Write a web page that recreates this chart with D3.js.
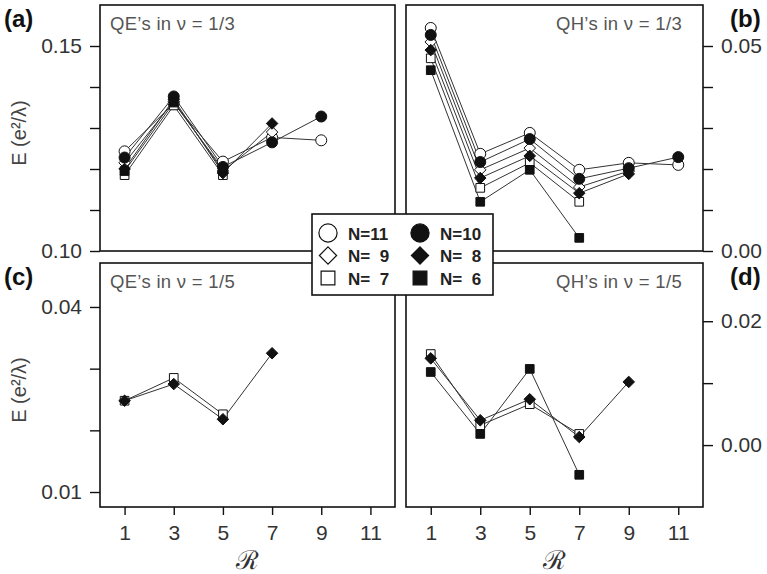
<!DOCTYPE html>
<html>
<head>
<meta charset="utf-8">
<script src="https://cdn.jsdelivr.net/npm/d3@7"></script>
<style>
  body { margin: 0; background: #fff; }
  svg { display: block; }
  text { font-family: "Liberation Sans", Arial, sans-serif; }
</style>
</head>
<body>
<svg id="chart" width="767" height="574"></svg>
<script>
// R values on the x axis, and the particle numbers of the six series
const rValues = [1, 3, 5, 7, 9, 11];
const seriesN = [11, 10, 9, 8, 7, 6];
const seriesShape = ["circle", "circle", "diamond", "diamond", "square", "square"];
const seriesFilled = [false, true, false, true, false, true];

// E values per series (same order as seriesN), one entry per R; missing R left off
const qe13 = [
  [0.1243, 0.1360, 0.1218, 0.1277, 0.1270],
  [0.1228, 0.1377, 0.1205, 0.1265, 0.1328],
  [0.1215, 0.1365, 0.1195, 0.1290],
  [0.1200, 0.1370, 0.1190, 0.1311],
  [0.1185, 0.1355, 0.1185],
  [0.1195, 0.1362, 0.1200]
];
const qh13 = [
  [0.0544, 0.0237, 0.0288, 0.0198, 0.0215, 0.0210],
  [0.0527, 0.0217, 0.0273, 0.0176, 0.0202, 0.0229],
  [0.0510, 0.0198, 0.0251, 0.0156, 0.0195],
  [0.0490, 0.0178, 0.0232, 0.0141, 0.0188],
  [0.0470, 0.0154, 0.0215, 0.0120],
  [0.0441, 0.0120, 0.0198, 0.0032]
];
const qe15 = [
  [], [], [],
  [0.0248, 0.0275, 0.0218, 0.0325],
  [0.0248, 0.0285, 0.0226],
  []
];
const qh15 = [
  [], [], [],
  [0.0140, 0.0040, 0.0074, 0.0013, 0.0102],
  [0.0147, 0.0032, 0.0066, 0.0018],
  [0.0118, 0.0018, 0.0123, -0.0048]
];

// y ticks and which of them carry a label
const ticksA = [0.10, 0.11, 0.12, 0.13, 0.14, 0.15], labelsA = [0.10, 0.15];
const ticksB = [0.00, 0.01, 0.02, 0.03, 0.04, 0.05], labelsB = [0.00, 0.05];
const ticksC = [0.01, 0.02, 0.03, 0.04], labelsC = [0.01, 0.04];
const ticksD = [0.00, 0.01, 0.02], labelsD = [0.00, 0.02];

const svg = d3.select("#chart");
const fmt = d3.format(".2f");

const xLeft = d3.scaleLinear().domain([0, 12]).range([100, 395]);
const xRight = d3.scaleLinear().domain([0, 12]).range([406, 703]);

const panels = [
  {id: "a", x: xLeft, y: d3.scaleLinear().domain([0.10, 0.160]).range([251, 5]),
   ticks: ticksA, labels: labelsA, side: "left", data: qe13,
   title: "QE\u2019s in \u03bd = 1/3", letter: "(a)"},
  {id: "b", x: xRight, y: d3.scaleLinear().domain([0, 0.060]).range([251, 5]),
   ticks: ticksB, labels: labelsB, side: "right", data: qh13,
   title: "QH\u2019s in \u03bd = 1/3", letter: "(b)"},
  {id: "c", x: xLeft, y: d3.scaleLinear().domain([0.00757, 0.04713]).range([507, 263]),
   ticks: ticksC, labels: labelsC, side: "left", data: qe15,
   title: "QE\u2019s in \u03bd = 1/5", letter: "(c)"},
  {id: "d", x: xRight, y: d3.scaleLinear().domain([-0.0100, 0.0294]).range([507, 263]),
   ticks: ticksD, labels: labelsD, side: "right", data: qh15,
   title: "QH\u2019s in \u03bd = 1/5", letter: "(d)"}
];

function symbolPath(shape, size) {
  const s = shape === "circle" ? d3.symbolCircle : shape === "diamond" ? d3.symbolDiamond2 : d3.symbolSquare;
  return d3.symbol().type(s).size(size)();
}

panels.forEach(function(p) {
  const g = svg.append("g").attr("id", "panel-" + p.id);
  const [x0, x1] = p.x.range();
  const [y0, y1] = p.y.range();

  g.append("rect")
    .attr("x", x0).attr("y", y1)
    .attr("width", x1 - x0).attr("height", y0 - y1)
    .attr("fill", "none").attr("stroke", "#111").attr("stroke-width", 1.6);

  const axis = (p.side === "left" ? d3.axisLeft(p.y) : d3.axisRight(p.y))
    .tickValues(p.ticks).tickSize(10).tickPadding(8)
    .tickFormat(function(d) { return p.labels.some(l => Math.abs(l - d) < 1e-9) ? fmt(d) : ""; });

  const ax = g.append("g")
    .attr("transform", "translate(" + (p.side === "left" ? x0 : x1) + ",0)")
    .call(axis);
  ax.select(".domain").remove();
  ax.selectAll("line").attr("stroke", "#111").attr("stroke-width", 1.4);
  ax.selectAll("text").attr("font-size", 21).attr("fill", "#333")
    .attr("font-family", "Liberation Sans, Arial, sans-serif");

  if (p.id === "c" || p.id === "d") {
    const xa = g.append("g")
      .attr("transform", "translate(0," + y0 + ")")
      .call(d3.axisBottom(p.x).tickValues(rValues).tickSize(8).tickPadding(10));
    xa.select(".domain").remove();
    xa.selectAll("line").attr("stroke", "#111").attr("stroke-width", 1.4);
    xa.selectAll("text").attr("font-size", 21).attr("fill", "#333")
      .attr("font-family", "Liberation Sans, Arial, sans-serif");
    g.append("text")
      .attr("x", (x0 + x1) / 2).attr("y", 569)
      .attr("text-anchor", "middle")
      .attr("font-family", "DejaVu Sans, DejaVu Serif, serif")
      .attr("font-size", 26).attr("fill", "#333")
      .text("\u211b");
  }

  if (p.side === "left") {
    g.append("text")
      .attr("transform", "translate(26," + ((y0 + y1) / 2 + 5) + ") rotate(-90)")
      .attr("text-anchor", "middle")
      .attr("font-size", 20).attr("fill", "#444")
      .text("E (e\u00b2/\u03bb)");
  }

  g.append("text")
    .attr("x", p.side === "left" ? x0 + 10 : x1 - 21)
    .attr("y", y1 + 25)
    .attr("text-anchor", p.side === "left" ? "start" : "end")
    .attr("font-family", "Noto Sans, Open Sans, sans-serif")
    .attr("font-size", 18.5).attr("fill", "#555")
    .attr("letter-spacing", 0.3)
    .text(p.title);

  g.append("text")
    .attr("x", p.side === "left" ? 4 : 730)
    .attr("y", y1 + 22)
    .attr("font-size", 24).attr("font-weight", "bold").attr("fill", "#111")
    .text(p.letter);

  const line = d3.line()
    .x(function(d, i) { return p.x(rValues[i]); })
    .y(function(d) { return p.y(d); });

  p.data.forEach(function(vals) {
    if (vals.length < 2) return;
    g.append("path").datum(vals)
      .attr("d", line)
      .attr("fill", "none").attr("stroke", "#333").attr("stroke-width", 1);
  });

  const order = [0, 2, 4, 1, 3, 5];
  order.forEach(function(si) {
    const shape = seriesShape[si];
    const size = shape === "circle" ? 95 : shape === "diamond" ? 85 : 75;
    g.selectAll(null).data(p.data[si]).enter().append("path")
      .attr("transform", function(d, i) { return "translate(" + p.x(rValues[i]) + "," + p.y(d) + ")"; })
      .attr("d", symbolPath(shape, size))
      .attr("fill", seriesFilled[si] ? "#111" : "#fff")
      .attr("stroke", "#111").attr("stroke-width", 1);
  });
});

// legend box over the junction of the four panels
const legend = svg.append("g").attr("id", "legend");
legend.append("rect")
  .attr("x", 312).attr("y", 214).attr("width", 181).attr("height", 81)
  .attr("fill", "#fff").attr("stroke", "#111").attr("stroke-width", 1.6);

const legendCol = d3.scaleOrdinal().domain([0, 1]).range([328, 420]);
const legendRow = d3.scalePoint().domain([0, 1, 2]).range([233, 278]);

seriesN.forEach(function(n, si) {
  const col = seriesFilled[si] ? 1 : 0;
  const row = Math.floor(si / 2);
  const shape = seriesShape[si];
  const size = shape === "circle" ? 260 : shape === "diamond" ? 190 : 190;
  const lx = legendCol(col), ly = legendRow(row);
  legend.append("path")
    .attr("transform", "translate(" + lx + "," + ly + ")")
    .attr("d", symbolPath(shape, size))
    .attr("fill", seriesFilled[si] ? "#111" : "#fff")
    .attr("stroke", "#111").attr("stroke-width", 1.2);
  legend.append("text")
    .attr("x", lx + 20).attr("y", ly + 6.5)
    .attr("font-size", 17).attr("font-weight", "bold").attr("fill", "#222")
    .text("N=" + (n < 10 ? "\u2007" + n : n));
});
</script>
</body>
</html>
